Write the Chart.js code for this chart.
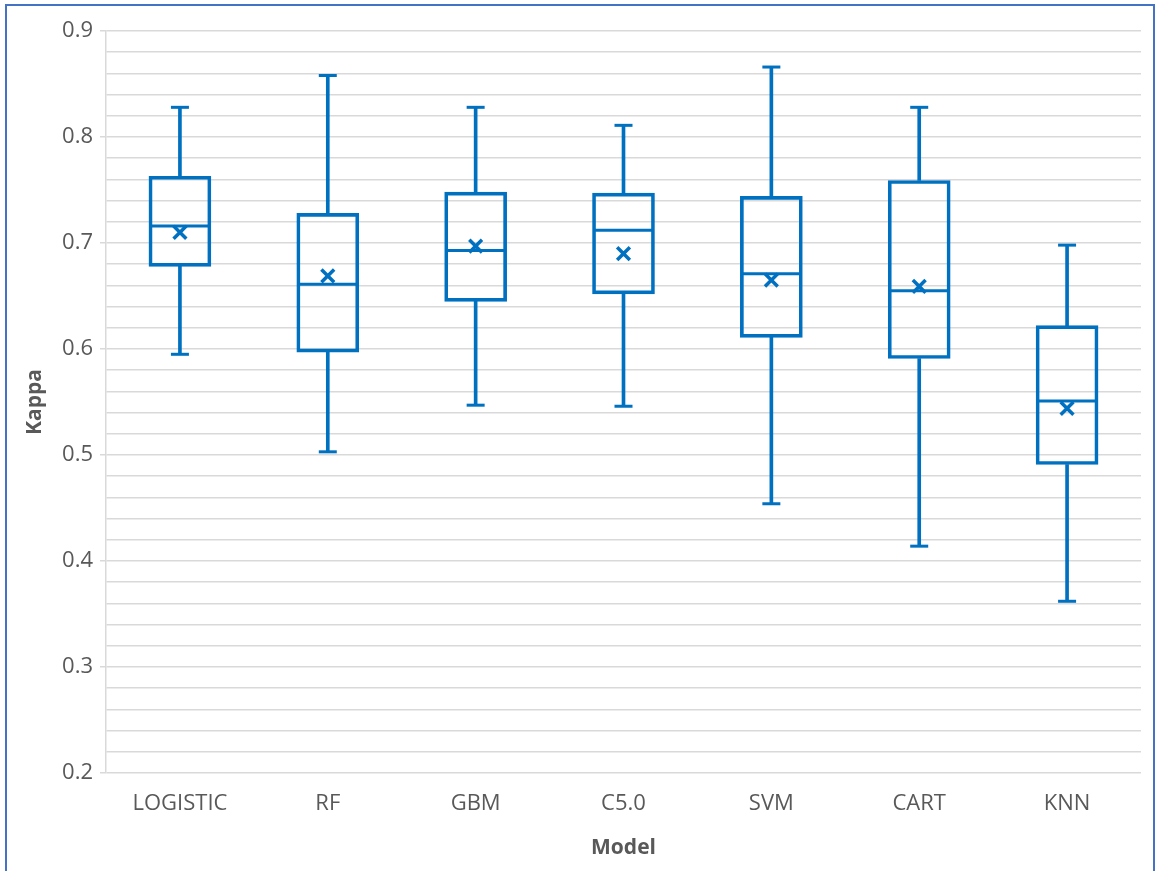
<!DOCTYPE html>
<html>
<head>
<meta charset="utf-8">
<script src="https://cdn.jsdelivr.net/npm/chart.js@4/dist/chart.umd.min.js"></script>
<style>
  html, body { margin: 0; padding: 0; overflow: hidden; background: #ffffff; width: 1155px; height: 871px; }
  #wrap { position: absolute; left: 0; top: 0; width: 1155px; height: 871px; }
  #frame { position: absolute; left: 5px; top: 4px; width: 1150px; height: 900px; box-sizing: border-box; border: 2px solid #4472C4; pointer-events: none; }
</style>
</head>
<body>
<div id="wrap"><canvas id="c" width="1155" height="871"></canvas></div>
<div id="frame"></div>
<script>
// ---- data ----
const categories = ['LOGISTIC', 'RF', 'GBM', 'C5.0', 'SVM', 'CART', 'KNN'];
const minVals    = [0.595, 0.503, 0.547, 0.546, 0.454, 0.414, 0.362];
const q1Vals     = [0.678, 0.597, 0.645, 0.652, 0.611, 0.591, 0.491];
const medianVals = [0.716, 0.661, 0.693, 0.712, 0.671, 0.655, 0.551];
const q3Vals     = [0.763, 0.728, 0.748, 0.747, 0.744, 0.759, 0.622];
const maxVals    = [0.828, 0.858, 0.828, 0.811, 0.866, 0.828, 0.698];
const meanVals   = [0.710, 0.669, 0.697, 0.690, 0.665, 0.659, 0.544];
const yMajorTicks = [0.2, 0.3, 0.4, 0.5, 0.6, 0.7, 0.8, 0.9];
const yMinorStep = 0.02;

const BLUE = '#0070C0';
const GRID = '#d9d9d9';
const TEXT = '#595959';
const FONT = '"Open Sans", "Noto Sans", sans-serif';

function isMajor(v) {
  return yMajorTicks.some(m => Math.abs(m - v) < 1e-9);
}

const lowerWhisker = categories.map((_, i) => [minVals[i], q1Vals[i]]);
const upperWhisker = categories.map((_, i) => [q3Vals[i], maxVals[i]]);
const boxes = categories.map((_, i) => [q1Vals[i], q3Vals[i]]);

new Chart(document.getElementById('c'), {
  type: 'bar',
  data: {
    labels: categories,
    datasets: [
      { type: 'line', label: 'mean', data: meanVals, showLine: false, order: 1,
        pointStyle: 'crossRot', pointRadius: 9, pointHoverRadius: 9,
        pointBorderWidth: 3.5, pointBorderColor: BLUE, pointBackgroundColor: BLUE },
      { type: 'line', label: 'median', data: medianVals, showLine: false, order: 2,
        pointStyle: 'line', pointRadius: 30, pointHoverRadius: 30,
        pointBorderWidth: 3, pointBorderColor: BLUE },
      { type: 'line', label: 'maxCap', data: maxVals, showLine: false, order: 2,
        pointStyle: 'line', pointRadius: 9, pointHoverRadius: 9,
        pointBorderWidth: 3, pointBorderColor: BLUE },
      { type: 'line', label: 'minCap', data: minVals, showLine: false, order: 2,
        pointStyle: 'line', pointRadius: 9, pointHoverRadius: 9,
        pointBorderWidth: 3, pointBorderColor: BLUE },
      { label: 'box', data: boxes, grouped: false, order: 3,
        barThickness: 62, borderWidth: 3, borderSkipped: false,
        borderColor: BLUE, backgroundColor: 'rgba(0,0,0,0)' },
      { label: 'upperWhisker', data: upperWhisker, grouped: false, order: 4,
        barThickness: 3, borderWidth: 0, backgroundColor: BLUE },
      { label: 'lowerWhisker', data: lowerWhisker, grouped: false, order: 4,
        barThickness: 3, borderWidth: 0, backgroundColor: BLUE }
    ]
  },
  options: {
    responsive: false,
    animation: false,
    events: [],
    layout: { autoPadding: false, padding: { top: 31, right: 14, left: 0, bottom: 0 } },
    plugins: { legend: { display: false }, tooltip: { enabled: false } },
    scales: {
      x: {
        offset: true,
        grid: { display: false, drawTicks: false },
        border: { display: false },
        ticks: { color: TEXT, font: { family: FONT, size: 22 }, padding: 18, maxRotation: 0, autoSkip: false },
        title: { display: true, text: 'Model', color: TEXT,
                 font: { family: FONT, size: 21, weight: 'bold' }, padding: { top: 10, bottom: 10 } },
        afterFit: s => { s.height = 98; s.paddingLeft = 0; s.paddingRight = 0; }
      },
      y: {
        min: yMajorTicks[0],
        max: yMajorTicks[yMajorTicks.length - 1],
        afterBuildTicks: s => {
          const t = [];
          const n = Math.round((s.max - s.min) / yMinorStep);
          for (let i = 0; i <= n; i++) t.push({ value: +(s.min + i * yMinorStep).toFixed(4) });
          s.ticks = t;
        },
        grid: {
          color: GRID, lineWidth: 1.5, tickLength: 6,
          tickColor: c => (c.tick && isMajor(c.tick.value)) ? GRID : 'rgba(0,0,0,0)'
        },
        border: { display: true, color: GRID, width: 1.5 },
        ticks: {
          color: TEXT, font: { family: FONT, size: 22 }, padding: 7, autoSkip: false,
          callback: v => isMajor(v) ? v.toFixed(1) : ''
        },
        title: { display: true, text: 'Kappa', color: TEXT,
                 font: { family: FONT, size: 21, weight: 'bold' }, padding: { top: 22, bottom: 22 } },
        afterFit: s => { s.width = 106; s.paddingTop = 0; s.paddingBottom = 0; }
      }
    }
  }
});
</script>
</body>
</html>
